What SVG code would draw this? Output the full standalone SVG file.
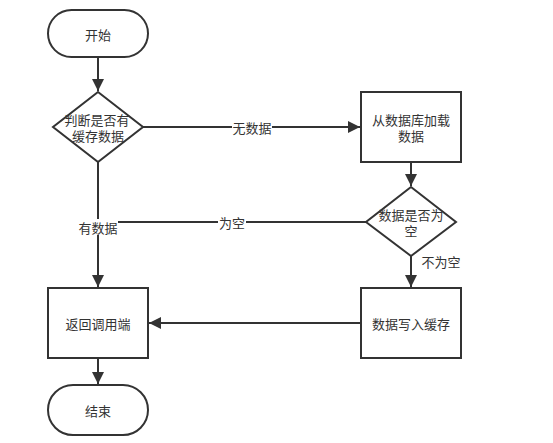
<svg xmlns="http://www.w3.org/2000/svg" width="553" height="443" viewBox="0 0 553 443">
<style>
.s{fill:#fff;stroke:#333;stroke-width:2}
.t{font-family:"Noto Sans CJK SC","Noto Sans",sans-serif;font-size:13px;fill:#333;text-anchor:middle;dominant-baseline:central}
.c{fill:none;stroke:#333;stroke-width:2}
.bg{fill:#fff}
</style>
<defs>
<marker id="a" viewBox="0 0 10 10" refX="10" refY="5" markerWidth="6" markerHeight="6" orient="auto" markerUnits="strokeWidth">
<path d="M0,0 L10,5 L0,10 Z" fill="#333"/>
</marker>
</defs>
<rect width="553" height="443" fill="#fff"/>
<g id="connectors">
<path class="c" d="M98,57 L98,91" marker-end="url(#a)"/>
<path class="c" d="M143,127 L360,127" marker-end="url(#a)"/>
<path class="c" d="M411,162 L411,186" marker-end="url(#a)"/>
<path class="c" d="M98,162 L98,287" marker-end="url(#a)"/>
<path class="c" d="M366,222 L98,222"/>
<path class="c" d="M411,256 L411,287" marker-end="url(#a)"/>
<path class="c" d="M361,323 L149,323" marker-end="url(#a)"/>
<path class="c" d="M98,358 L98,384" marker-end="url(#a)"/>
<rect class="bg" x="232" y="119" width="40" height="16"/>
<text class="t" x="252" y="127">无数据</text>
<rect class="bg" x="218" y="214" width="28" height="16"/>
<text class="t" x="232" y="222">为空</text>
<rect class="bg" x="78" y="219" width="40" height="16"/>
<text class="t" x="98" y="227">有数据</text>
<text class="t" x="441" y="261">不为空</text>
</g>
<g id="start">
<rect class="s" x="48" y="10" width="100" height="47" rx="23.5"/>
<text class="t" x="98" y="34">开始</text>
</g>
<g id="check-cache">
<path class="s" d="M98,92 L143,127 L98,162 L53,127 Z"/>
<text class="t"><tspan x="97" y="119">判断是否有</tspan><tspan x="98" y="135">缓存数据</tspan></text>
</g>
<g id="load-db">
<rect class="s" x="361" y="92" width="100" height="70"/>
<text class="t"><tspan x="411" y="119">从数据库加载</tspan><tspan x="411" y="135">数据</tspan></text>
</g>
<g id="check-empty">
<path class="s" d="M411,187 L456,222 L411,256 L366,222 Z"/>
<text class="t"><tspan x="411" y="214">数据是否为</tspan><tspan x="411" y="230">空</tspan></text>
</g>
<g id="return">
<rect class="s" x="48" y="288" width="100" height="70"/>
<text class="t" x="98" y="323">返回调用端</text>
</g>
<g id="write-cache">
<rect class="s" x="361" y="288" width="100" height="70"/>
<text class="t" x="411" y="323">数据写入缓存</text>
</g>
<g id="end">
<rect class="s" x="48" y="385" width="100" height="50" rx="25"/>
<text class="t" x="98" y="410">结束</text>
</g>
</svg>
